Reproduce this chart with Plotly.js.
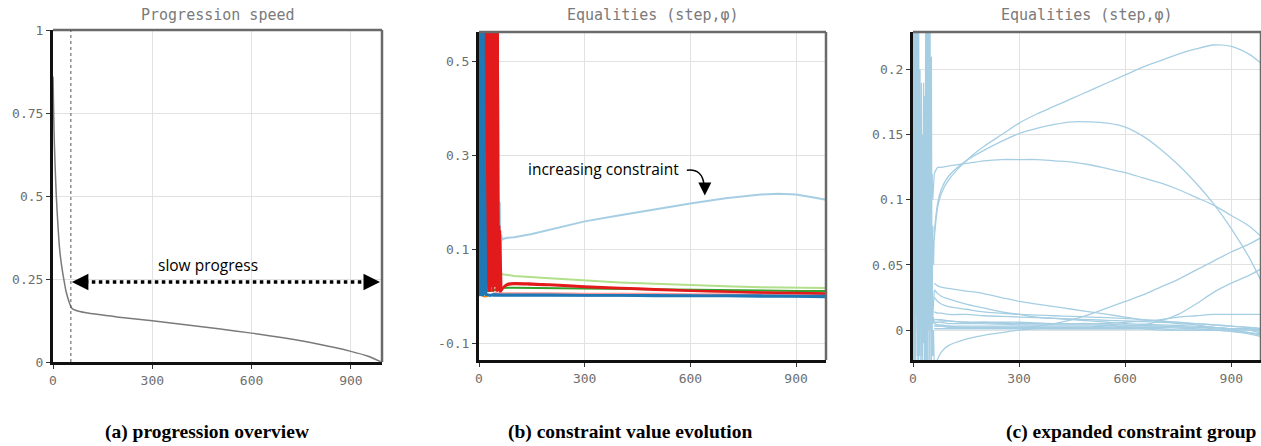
<!DOCTYPE html>
<html><head><meta charset="utf-8">
<script src="https://cdn.plot.ly/plotly-3.0.1.min.js"></script>
<style>html,body{margin:0;padding:0;background:#fff;}#chart{width:1261px;height:446px;}</style>
</head><body><div id="chart"></div>
<script>
// ---------- Panel (a): progression speed ----------
const stepA  = [0,3,6,10,15,20,26,30,40,50,56,70,100,200,300,400,500,600,700,800,900,950,990];
const speedA = [0.86,0.7,0.6,0.5,0.41,0.34,0.29,0.265,0.21,0.177,0.163,0.155,0.148,0.135,0.124,0.112,0.1,0.087,0.072,0.054,0.032,0.018,0.001];
const slowStartStep = 54;

// ---------- Panel (b): constraint value evolution ----------
const bBlueX  = [0,1,2,3,4,5,6,7,8,9,10,11,12,13,14,16,18,20,25,30,40];
const bBlue1  = [0.7,0.02,0.7,0.01,0.7,0.0,0.7,0.02,0.6,0.01,0.7,0.0,0.6,0.01,0.5,0.01,0.005,0.004,0.003,0.002,0.001];
const bBlue2  = [0.02,0.7,0.0,0.7,0.01,0.7,0.02,0.7,0.01,0.6,0.0,0.7,0.01,0.6,0.02,0.3,0.01,0.003,0.002,0.001,0.004];
const bTailX  = [40,60,80,100,150,200,300,400,500,600,700,800,900,985];
const bBlueT1 = [0.001,0.001,0.001,0.001,0.001,0.001,0.001,0.001,0.0,0.0,0.0,-0.001,-0.001,-0.002];
const bBlueT2 = [0.004,0.003,0.003,0.003,0.003,0.003,0.002,0.002,0.002,0.001,0.001,0.001,0.0,0.0];
const bPinkT  = [0.006,0.006,0.006,0.006,0.006,0.006,0.005,0.005,0.005,0.004,0.004,0.004,0.003,0.003];

const bRedX = [14,17,20,23,26,29,32,35,38,41,44,47,50,53,56,58,60,62,64];
const bRed1 = [0.05,0.7,0.02,0.7,0.01,0.7,0.02,0.6,0.01,0.7,0.02,0.65,0.01,0.7,0.02,0.15,0.02,0.01,0.012];
const bRed2 = [0.7,0.01,0.7,0.02,0.6,0.01,0.7,0.02,0.55,0.01,0.7,0.02,0.6,0.01,0.12,0.01,0.14,0.02,0.012];
const bRed3 = [0.01,0.6,0.03,0.5,0.02,0.7,0.01,0.4,0.02,0.7,0.03,0.5,0.01,0.7,0.02,0.05,0.01,0.01,0.01];
const bRedTX = [64,70,80,100,150,200,300,400,500,600,700,800,900,985];
const bRedT1 = [0.012,0.02,0.026,0.028,0.027,0.025,0.021,0.018,0.015,0.012,0.01,0.008,0.007,0.006];
const bRedT2 = [0.012,0.018,0.023,0.025,0.024,0.023,0.019,0.016,0.013,0.011,0.009,0.007,0.006,0.005];

const bLgX = [15,17,19,22,26,30,35,40,45,50,55,60,100,200,300,400,500,600,700,800,900,985];
const bLg  = [0.0,0.13,0.03,0.02,0.015,0.015,0.02,0.025,0.03,0.04,0.046,0.047,0.043,0.038,0.033,0.029,0.026,0.023,0.021,0.019,0.018,0.017];
const bDgX = [5,10,20,30,40,50,60,100,200,300,400,500,600,700,800,900,985];
const bDg  = [0.01,0.01,0.01,0.011,0.012,0.014,0.017,0.018,0.017,0.016,0.015,0.014,0.013,0.012,0.012,0.011,0.011];
const bLbX = [52,55,57,59,61,63,66,70,80,100,150,200,300,400,500,600,700,800,850,900,950,985];
const bLb  = [0.03,0.21,0.04,0.2,0.06,0.13,0.12,0.122,0.124,0.125,0.132,0.141,0.159,0.172,0.185,0.197,0.208,0.216,0.218,0.216,0.21,0.205];
const bOrX = [0,3,6,9,12,15,20,25];
const bOr  = [0.11,0.06,0.02,0.005,0.0,-0.001,0.0,0.0];

// ---------- Panel (c): expanded constraint group ----------
const cSpikeX = [0,2,4,6,8,10,12,14,16,18,20,22,24,26,28,30,32,34,36,38,40,42,44,46,48,50,52,54,56,58,60];
const cS1 = [0.3,0.0,0.3,-0.04,0.3,0.02,0.3,-0.05,0.25,0.0,0.2,-0.03,0.19,0.02,0.15,0.0,0.18,-0.04,0.3,0.01,0.3,-0.05,0.3,0.0,0.3,0.02,0.21,0.01,0.08,0.05,0.07];
const cS2 = [-0.05,0.3,0.0,0.3,-0.03,0.3,0.01,0.3,-0.04,0.2,0.02,0.12,-0.02,0.1,0.01,0.19,-0.05,0.14,0.0,0.3,-0.04,0.3,0.02,0.3,-0.03,0.21,0.0,0.04,0.01,0.03,0.03];
const cS3 = [0.1,0.2,0.05,0.15,0.1,0.25,-0.02,0.1,0.05,0.08,0.0,0.06,0.04,0.07,-0.01,0.1,0.02,0.08,-0.03,0.12,0.05,0.3,0.0,0.2,0.04,0.1,0.0,0.02,0.005,0.01,0.005];
const cS4 = [0.2,-0.03,0.15,0.0,0.3,0.02,0.12,-0.02,0.1,0.01,0.15,0.0,0.06,0.03,0.12,-0.01,0.07,0.01,0.1,-0.04,0.3,0.0,0.3,-0.05,0.15,0.0,-0.03,0.01,-0.02,0.0,-0.025];
const cS5 = [0.0,0.1,-0.04,0.2,0.0,0.05,0.1,0.0,0.06,-0.02,0.05,0.03,0.08,-0.05,0.04,0.01,0.06,0.0,0.05,0.02,0.1,0.0,0.25,0.01,0.1,0.12,0.1,0.12,0.1,0.11,0.12];

const cTailX = [60,70,80,100,150,200,250,300,350,400,450,500,550,600,650,700,750,800,850,900,950,984];
const cT1  = [0.07,0.095,0.105,0.115,0.13,0.141,0.15,0.159,0.166,0.172,0.178,0.184,0.19,0.196,0.202,0.207,0.212,0.216,0.219,0.218,0.212,0.205];
const cT2  = [0.075,0.098,0.108,0.118,0.13,0.138,0.145,0.151,0.155,0.158,0.16,0.16,0.159,0.156,0.149,0.139,0.127,0.113,0.097,0.078,0.056,0.038];
const cT3  = [0.12,0.125,0.125,0.126,0.128,0.13,0.131,0.131,0.131,0.13,0.129,0.127,0.124,0.121,0.117,0.113,0.108,0.102,0.096,0.088,0.08,0.072];
const cT4  = [0.005,0.004,0.004,0.003,0.002,0.002,0.002,0.002,0.003,0.005,0.008,0.012,0.017,0.022,0.027,0.033,0.039,0.046,0.053,0.06,0.066,0.071];
const cT5  = [0.003,0.003,0.003,0.002,0.002,0.002,0.002,0.002,0.002,0.002,0.002,0.002,0.002,0.003,0.004,0.007,0.012,0.02,0.029,0.036,0.042,0.047];
const cT6  = [0.008,0.008,0.008,0.007,0.006,0.006,0.005,0.005,0.005,0.005,0.005,0.005,0.005,0.006,0.007,0.008,0.01,0.011,0.012,0.012,0.012,0.012];
const cT7  = [0.036,0.034,0.033,0.032,0.03,0.028,0.025,0.022,0.02,0.018,0.016,0.014,0.012,0.01,0.008,0.007,0.005,0.004,0.002,0.001,0.0,-0.002];
const cT8  = [0.031,0.028,0.026,0.024,0.02,0.017,0.014,0.012,0.01,0.009,0.008,0.007,0.006,0.005,0.0045,0.004,0.0035,0.003,0.002,0.001,0.001,0.0];
const cT9  = [0.025,0.022,0.02,0.018,0.016,0.014,0.013,0.012,0.0115,0.011,0.0105,0.01,0.0095,0.009,0.008,0.007,0.006,0.005,0.004,0.003,0.002,0.001];
const cT10 = [0.014,0.013,0.013,0.012,0.012,0.011,0.0105,0.01,0.0095,0.009,0.0085,0.008,0.0075,0.007,0.0065,0.006,0.0055,0.005,0.004,0.003,0.002,0.001];
const cT11 = [-0.03,-0.022,-0.017,-0.012,-0.007,-0.004,-0.002,0.0,0.001,0.001,0.001,0.001,0.001,0.001,0.001,0.001,0.0,0.0,0.0,-0.001,-0.002,-0.003];
const cT12 = [0.006,0.006,0.006,0.005,0.005,0.005,0.0045,0.004,0.004,0.004,0.004,0.004,0.0035,0.003,0.003,0.003,0.0025,0.002,0.001,0.0,-0.002,-0.004];
const cT13 = [0.003,0.003,0.003,0.003,0.003,0.003,0.003,0.003,0.003,0.003,0.003,0.003,0.0025,0.002,0.002,0.002,0.0015,0.001,0.0,-0.001,-0.003,-0.005];
const cT14 = [0.001,0.001,0.001,0.001,0.001,0.001,0.001,0.001,0.001,0.001,0.001,0.001,0.001,0.001,0.001,0.0,0.0,0.0,0.0,0.0,0.0,-0.001];
const cT15 = [0.008,0.008,0.007,0.007,0.006,0.006,0.006,0.006,0.0055,0.005,0.005,0.005,0.0045,0.004,0.0035,0.003,0.0025,0.002,0.002,0.001,0.001,0.0];

const xTicks = [0,300,600,900];
const aYTicks = [0,0.25,0.5,0.75,1];
const aYText  = ['0','0.25','0.5','0.75','1'];
const bYTicks = [-0.1,0.1,0.3,0.5];
const bYText  = ['-0.1','0.1','0.3','0.5'];
const cYTicks = [0,0.05,0.1,0.15,0.2];
const cYText  = ['0','0.05','0.1','0.15','0.2'];

const titles = ['Progression speed','Equalities (step,\u03c6)','Equalities (step,\u03c6)'];
const captions = ['(a) progression overview','(b) constraint value evolution','(c) expanded constraint group'];

// ---------- build ----------
const C = {lblue:'#a6cee3', blue:'#1f78b4', lgreen:'#b2df8a', dgreen:'#33a02c', pink:'#fb9a99', red:'#e31a1c', orange:'#ff7f00'};
function ln(x, y, color, width, ax, shape){
  return {type:'scatter', mode:'lines', x:x, y:y, xaxis:'x'+ax, yaxis:'y'+ax,
    line:{color:color, width:width, shape:shape||'linear', smoothing:0.8}, hoverinfo:'skip', showlegend:false};
}
const traces = [];
traces.push(ln(stepA, speedA, '#7a7a7a', 1.5, '', 'spline'));

// panel b
traces.push(ln(bOrX, bOr, C.orange, 2, '2'));
traces.push(ln(bDgX, bDg, C.dgreen, 2, '2'));
traces.push(ln(bLgX, bLg, C.lgreen, 2, '2'));
traces.push(ln(bTailX, bPinkT, C.pink, 2, '2', 'spline'));
traces.push(ln(bLbX, bLb, C.lblue, 2, '2'));
traces.push(ln(bRedX, bRed3, C.red, 2, '2'));
traces.push(ln(bRedX, bRed2, C.red, 2, '2'));
traces.push(ln(bRedX, bRed1, C.red, 2, '2'));
traces.push(ln(bRedTX, bRedT2, C.red, 2, '2', 'spline'));
traces.push(ln(bRedTX, bRedT1, C.red, 2, '2', 'spline'));
traces.push(ln(bBlueX, bBlue1, C.blue, 2.5, '2'));
traces.push(ln(bBlueX, bBlue2, C.blue, 2.5, '2'));
traces.push(ln(bTailX, bBlueT1, C.blue, 2.5, '2', 'spline'));
traces.push(ln(bTailX, bBlueT2, C.blue, 2.5, '2', 'spline'));

// panel c
[cS1,cS2,cS3,cS4,cS5].forEach(s => traces.push(ln(cSpikeX, s, C.lblue, 1.2, '3')));
[cT1,cT2,cT3,cT4,cT5,cT6,cT7,cT8,cT9,cT10,cT11,cT12,cT13,cT14,cT15].forEach(t => traces.push(ln(cTailX, t, C.lblue, 1.3, '3', 'spline')));

const W = 1261, H = 446;
const px = v => v / W, py = v => (H - v) / H;
const tickFont = {family:'DejaVu Sans Mono, monospace', size:13, color:'#6e6e6e'};
function xa(domain, range){
  return {domain:domain, range:range, tickvals:xTicks, ticks:'outside', ticklen:4, tickcolor:'#333', tickwidth:1,
    showgrid:true, gridcolor:'#e2e2e2', gridwidth:1, zeroline:false, showline:true, linecolor:'#111', linewidth:3,
    tickfont:tickFont, fixedrange:true};
}
function ya(domain, range, tv, tt){
  return {domain:domain, range:range, tickvals:tv, ticktext:tt, ticks:'outside', ticklen:4, tickcolor:'#333', tickwidth:1,
    showgrid:true, gridcolor:'#e2e2e2', gridwidth:1, zeroline:false, showline:true, linecolor:'#111', linewidth:3,
    tickfont:tickFont, fixedrange:true};
}
const domA = [px(53), px(382)], domB = [px(479), px(826)], domC = [px(913), 1];
const domYA = [py(362), py(30)], domYB = [py(360), py(32)];

const shapes = [];
[['x','y'],['x2','y2'],['x3','y3']].forEach(([x,y]) => {
  shapes.push({type:'line', xref:x+' domain', yref:y+' domain', x0:0, x1:1, y0:1, y1:1, line:{color:'#6a6a6a', width:2.5}});
  shapes.push({type:'line', xref:x+' domain', yref:y+' domain', x0:1, x1:1, y0:0, y1:1, line:{color:'#6a6a6a', width:2.5}});
});
// vertical dashed marker and slow-progress dotted arrow
shapes.push({type:'line', xref:'x', yref:'y', x0:slowStartStep, x1:slowStartStep, y0:0, y1:1, line:{color:'#555', width:1, dash:'3px,3px'}});
shapes.push({type:'line', xref:'x', yref:'y', x0:75, x1:965, y0:0.241, y1:0.241, line:{color:'#000', width:3.5, dash:'dot'}});
// curved arrow in panel b
shapes.push({type:'path', xref:'x2', yref:'y2', path:'M 590,0.268 Q 634,0.272 639,0.236', line:{color:'#000', width:1.5}});

const annotations = [];
const centers = [(53+382)/2, (479+826)/2, (913+1261)/2];
titles.forEach((t,i) => annotations.push({xref:'paper', yref:'paper', x:px(centers[i]), y:py(15), text:t, showarrow:false,
  xanchor:'center', yanchor:'middle', font:{family:'DejaVu Sans Mono, monospace', size:15, color:'#7a7a7a'}}));
const capCenters = [207, 630, 1131];
captions.forEach((t,i) => annotations.push({xref:'paper', yref:'paper', x:px(capCenters[i]), y:py(432), text:'<b>'+t+'</b>', showarrow:false,
  xanchor:'center', yanchor:'middle', font:{family:'Liberation Serif, serif', size:19.5, color:'#000'}}));
annotations.push({xref:'x', yref:'y', x:468, y:0.292, text:'slow progress', showarrow:false, font:{family:'Open Sans, sans-serif', size:15.5, color:'#000'}});
annotations.push({xref:'x', yref:'y', x:57, y:0.241, ax:16, ay:0, text:'', showarrow:true, arrowhead:2, arrowsize:1.1, arrowwidth:3, arrowcolor:'#000', standoff:0});
annotations.push({xref:'x', yref:'y', x:988, y:0.241, ax:-16, ay:0, text:'', showarrow:true, arrowhead:2, arrowsize:1.1, arrowwidth:3, arrowcolor:'#000', standoff:0});
annotations.push({xref:'x2', yref:'y2', x:353, y:0.27, text:'increasing constraint', showarrow:false, font:{family:'Open Sans, sans-serif', size:15.5, color:'#000'}});
annotations.push({xref:'x2', yref:'y2', x:641, y:0.214, ax:0, ay:-12, text:'', showarrow:true, arrowhead:2, arrowsize:1.3, arrowwidth:2, arrowcolor:'#000', standoff:0});

const layout = {
  width:W, height:H, margin:{l:0,r:0,t:0,b:0}, paper_bgcolor:'#fff', plot_bgcolor:'#fff', showlegend:false,
  xaxis:Object.assign(xa(domA,[0,994]), {anchor:'y'}),
  yaxis:Object.assign(ya(domYA,[0,1],aYTicks,aYText), {anchor:'x'}),
  xaxis2:Object.assign(xa(domB,[0,985]), {anchor:'y2'}),
  yaxis2:Object.assign(ya(domYB,[-0.136,0.562],bYTicks,bYText), {anchor:'x2'}),
  xaxis3:Object.assign(xa(domC,[0,984]), {anchor:'y3'}),
  yaxis3:Object.assign(ya(domYB,[-0.023,0.229],cYTicks,cYText), {anchor:'x3'}),
  shapes:shapes, annotations:annotations
};
Plotly.newPlot('chart', traces, layout, {staticPlot:true, displayModeBar:false});
</script></body></html>
